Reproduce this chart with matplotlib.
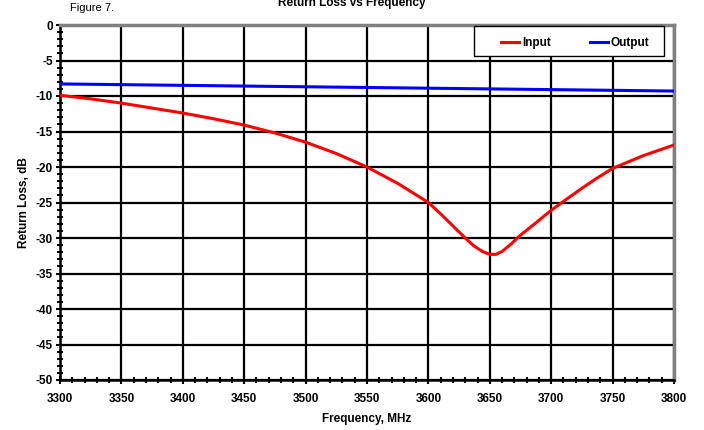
import matplotlib
matplotlib.use("Agg")
import matplotlib.pyplot as plt
from matplotlib.patches import Rectangle
from matplotlib.ticker import MultipleLocator

plt.rcParams['font.family'] = ['Liberation Sans', 'DejaVu Sans']
plt.rcParams['axes.unicode_minus'] = False

freq_in = [3300, 3325, 3350, 3375, 3400, 3425, 3450, 3475, 3500, 3525, 3550,
           3575, 3600, 3610, 3620, 3630, 3637, 3644, 3650, 3655, 3660, 3667,
           3675, 3688, 3700, 3712, 3725, 3737, 3750, 3775, 3800]
input_rl = [-9.9, -10.4, -11.0, -11.7, -12.4, -13.2, -14.1, -15.2, -16.5,
            -18.1, -20.0, -22.3, -25.0, -26.6, -28.3, -30.0, -31.1, -31.9,
            -32.3, -32.3, -31.9, -30.9, -29.6, -27.8, -26.1, -24.6, -23.0,
            -21.6, -20.2, -18.4, -16.9]

freq_out = [3300, 3400, 3500, 3600, 3700, 3800]
output_rl = [-8.3, -8.5, -8.7, -8.9, -9.1, -9.3]

fig = plt.figure(figsize=(7.04, 4.30), dpi=100)
ax = fig.add_axes([60/704, 1-380/430, 614/704, 355/430])

ax.plot(freq_in, input_rl, color='#ff0000', lw=2.2, label='Input', zorder=3,
        solid_joinstyle='round')
ax.plot(freq_out, output_rl, color='#0000ff', lw=2.2, label='Output', zorder=3)

ax.set_xlim(3300, 3800)
ax.set_ylim(-50, 0)
ax.xaxis.set_major_locator(MultipleLocator(50))
ax.xaxis.set_minor_locator(MultipleLocator(10))
ax.yaxis.set_major_locator(MultipleLocator(5))
ax.yaxis.set_minor_locator(MultipleLocator(1))
ax.grid(True, which='major', color='black', lw=1.6)
ax.tick_params(which='both', direction='inout', width=1.5, colors='black',
               labelsize=8.5)
ax.tick_params(which='major', length=6)
ax.tick_params(which='minor', length=4)
for lbl in ax.get_xticklabels() + ax.get_yticklabels():
    lbl.set_fontweight('bold')
ax.tick_params(axis='x', pad=6)
ax.tick_params(axis='y', pad=2)

for side in ('left', 'bottom'):
    ax.spines[side].set_color('black')
    ax.spines[side].set_linewidth(1.8)
for side in ('top', 'right'):
    ax.spines[side].set_color('#808080')
    ax.spines[side].set_linewidth(2.5)

ax.set_xlabel('Frequency, MHz', fontsize=8.5, fontweight='bold', labelpad=6)
ax.set_ylabel('Return Loss, dB', fontsize=8.5, fontweight='bold', labelpad=4)

# legend box drawn as its own patch, entries placed inside it
ax.add_patch(Rectangle((0.674, 0.9127), 0.3094, 0.0845, transform=ax.transAxes,
                       facecolor='white', edgecolor='black', lw=1.0, zorder=4))
leg = ax.legend(loc='center', ncol=2, fontsize=8.5, frameon=False,
                handlelength=1.6, handletextpad=0.2, columnspacing=3.3,
                borderpad=0, bbox_to_anchor=(0.8388, 0.949))
leg.set_zorder(5)
for t in leg.get_texts():
    t.set_fontweight('bold')

fig.text(0.5, 0.993, 'Return Loss vs Frequency', ha='center', va='center',
         fontsize=8.5, fontweight='bold')
fig.text(0.13, 0.982, 'Figure 7.', ha='center', va='center', fontsize=8)

fig.savefig('out.png', dpi=100)
